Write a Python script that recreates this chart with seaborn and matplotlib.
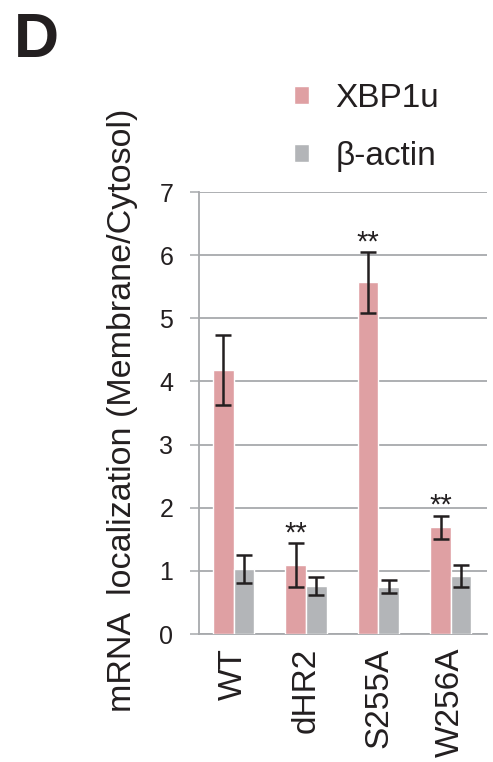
import pandas as pd
import numpy as np
import matplotlib
matplotlib.use("Agg")
import matplotlib.pyplot as plt
import seaborn as sns

# data
constructs = ["WT", "dHR2", "S255A", "W256A"]
xbp1u = [4.18, 1.09, 5.57, 1.69]
xbp1u_err = [0.55, 0.35, 0.48, 0.18]
actin = [1.03, 0.76, 0.75, 0.92]
actin_err = [0.22, 0.15, 0.10, 0.17]
stars = ["", "**", "**", "**"]

pink = "#DFA0A3"
grey = "#B3B5B8"
line_grey = "#A7A9AC"

df = pd.DataFrame({
    "construct": constructs * 2,
    "gene": ["XBP1u"] * 4 + ["β-actin"] * 4,
    "value": xbp1u + actin,
})

sns.set_style("white")
plt.rcParams["font.family"] = ["Liberation Sans", "DejaVu Sans"]

fig = plt.figure(figsize=(4.93, 7.62), dpi=100)
ax = fig.add_axes([199 / 493, 1 - 634 / 762, (487 - 199) / 493, (634 - 192) / 762])

sns.barplot(data=df, x="construct", y="value", hue="gene", order=constructs,
            hue_order=["XBP1u", "β-actin"], palette=[pink, grey],
            width=0.57, saturation=1, errorbar=None, ax=ax, zorder=3)

# error bars at the bar centres
for cont, errs in zip(ax.containers, [xbp1u_err, actin_err]):
    xs = [p.get_x() + p.get_width() / 2 for p in cont.patches]
    ys = [p.get_height() for p in cont.patches]
    ax.errorbar(xs, ys, yerr=errs, fmt="none", ecolor="#231F20",
                elinewidth=1.8, capsize=6, capthick=1.8, zorder=4)

# significance marks above XBP1u bars
for p, s, v, e in zip(ax.containers[0].patches, stars, xbp1u, xbp1u_err):
    if s:
        ax.text(p.get_x() + p.get_width() / 2, v + e + 0.03, s,
                ha="center", va="baseline", fontsize=21, color="#231F20")

ax.set_ylim(0, 7)
ax.set_xlim(-0.48, 3.5)
ax.set_yticks(range(0, 8))
ax.yaxis.grid(True, color=line_grey, linewidth=1.3, zorder=0)
ax.set_axisbelow(True)
for side in ["top", "right"]:
    ax.spines[side].set_visible(False)
for side in ["left", "bottom"]:
    ax.spines[side].set_color(line_grey)
    ax.spines[side].set_linewidth(1.3)
ax.tick_params(axis="y", length=6.5, width=1.1, color=line_grey,
               labelsize=18, labelcolor="#231F20", pad=12, left=True)
ax.tick_params(axis="x", length=0, labelsize=24, labelcolor="#231F20",
               labelrotation=90, pad=10)
ax.set_xlabel("")
ax.set_ylabel("")

fig.text(123 / 493, 1 - 410 / 762, "mRNA  localization (Membrane/Cytosol)",
         rotation=90, ha="center", va="center", fontsize=24.5, color="#231F20")

handles, labels = ax.get_legend_handles_labels()
ax.legend(handles, labels, loc="upper left", bbox_to_anchor=(294 / 493, 1 - 83 / 762),
          bbox_transform=fig.transFigure, frameon=False, fontsize=24,
          handlelength=0.45, handleheight=0.45, handletextpad=0.8,
          labelspacing=0.8, borderpad=0, borderaxespad=0, labelcolor="#231F20")

fig.text(14 / 493, 1 - 57 / 762, "D", fontsize=45, fontweight="bold",
         va="baseline", ha="left", color="#231F20")

fig.savefig("out.png", dpi=100)
